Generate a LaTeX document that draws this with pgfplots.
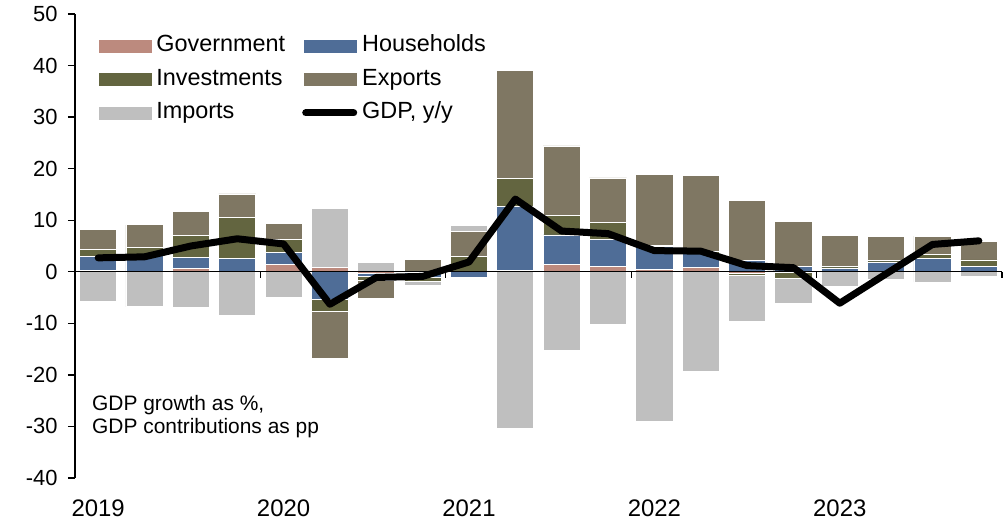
\documentclass[border=0pt]{standalone}
\usepackage{fontspec}
\setmainfont{Liberation Sans}
\usepackage{pgfplots}
\usepackage{pgfplotstable}
\pgfplotsset{compat=1.18}

\definecolor{govc}{HTML}{BC8A7E}
\definecolor{hhc}{HTML}{4F6D97}
\definecolor{invc}{HTML}{636540}
\definecolor{expc}{HTML}{7F7763}
\definecolor{impc}{HTML}{BFBFBF}

% contributions in pp, quarters 2019Q1 .. 2023Q4
\pgfplotstableread{
q   gov   hh    inv   exp   imp    gdp
0   0.3   2.6   1.5   3.8   -5.7   2.7
1   0.1   3.1   1.55  4.35  -6.8   2.9
2   0.7   2.0   4.4   4.6   -6.9   5.0
3   0.1   2.45  8.05  4.5   -8.5   6.4
4   1.45  2.35  2.5   3.1   -4.9   5.4
5   0.9   -5.3  -2.4  -9.1  11.3   -6.3
6   -0.3  -0.65 -0.65 -3.6  1.8    -1.1
7   -0.2  -0.9  -0.8  2.4   -0.7   -0.9
8   0.0   -1.1  2.9   5.0   1.0    1.9
9   0.2   12.4  5.5   21.0  -30.4  14.1
10  1.45  5.7   3.75  13.5  -15.2  7.9
11  1.1   5.1   3.4   8.6   -10.2  7.4
12  0.4   4.5   0.2   13.7  -29.1  4.1
13  0.8   2.8   0.4   14.6  -19.3  4.0
14  -0.4  2.2   -0.3  11.7  -9.0   1.2
15  -0.2  1.0   -1.0  8.7   -5.0   0.8
16  0.0   0.75  0.25  6.1   -2.75  -6.1
17  0.0   1.9   0.3   4.7   -1.5   -0.4
18  0.0   2.55  0.8   3.55  -2.0   5.3
19  0.0   1.1   1.2   3.5   -0.9   6.0
}\gdpdata

\pgfplotsset{
  frame/.style={
    width=927bp, height=464bp, scale only axis,
    xmin=-0.5, xmax=19.5, ymin=-40, ymax=50,
    clip=false,
  },
  bars/.style={
    frame, hide axis,
    ybar stacked, bar width=0.8,
    every axis plot/.append style={draw=white, line width=0.8bp},
  },
}

\begin{document}
\begin{tikzpicture}
% negative parts, stacked downwards
\begin{axis}[bars, y filter/.expression={y<0 ? y : 0}]
  \addplot[fill=govc] table[x=q,y=gov] {\gdpdata};
  \addplot[fill=hhc]  table[x=q,y=hh]  {\gdpdata};
  \addplot[fill=invc] table[x=q,y=inv] {\gdpdata};
  \addplot[fill=expc] table[x=q,y=exp] {\gdpdata};
  \addplot[fill=impc] table[x=q,y=imp] {\gdpdata};
\end{axis}
% positive parts, stacked upwards
\begin{axis}[bars, y filter/.expression={y>0 ? y : 0}]
  \addplot[fill=govc] table[x=q,y=gov] {\gdpdata};
  \addplot[fill=hhc]  table[x=q,y=hh]  {\gdpdata};
  \addplot[fill=invc] table[x=q,y=inv] {\gdpdata};
  \addplot[fill=expc] table[x=q,y=exp] {\gdpdata};
  \addplot[fill=impc] table[x=q,y=imp] {\gdpdata};
\end{axis}
% axes, GDP line, legend
\begin{axis}[
    frame,
    axis lines*=left,
    x axis line style={draw=none},
    y axis line style={line width=1.3bp},
    tick align=outside,
    major tick length=7bp,
    ytick={-40,-30,...,50},
    ytick style={line width=1.3bp, black},
    xtick={0,4,8,12,16},
    xticklabels={2019,2020,2021,2022,2023},
    xtick style={draw=none},
    /pgf/number format/assume math mode=true,
    yticklabel style={font=\fontsize{22}{26}\selectfont, xshift=-7bp},
    xticklabel style={font=\fontsize{24}{28}\selectfont, anchor=base, yshift=-31bp},
    legend columns=2,
    legend cell align=left,
    legend style={at={(rel axis cs:0,1)}, anchor=north west,
      xshift=24bp, yshift=-21bp, draw=none, fill=none,
      inner sep=0pt, outer sep=0pt,
      font=\fontsize{23.5}{28}\selectfont,
      row sep=11.5bp, column sep=5bp,
      /tikz/every even column/.append style={column sep=17bp},
      nodes={inner sep=0pt, text height=17bp, text depth=5bp}},
  ]
  \addlegendimage{legend image code/.code={\fill[govc] (0bp,-6bp) rectangle (52bp,6bp);}}
  \addlegendentry{Government}
  \addlegendimage{legend image code/.code={\fill[hhc] (0bp,-6bp) rectangle (52bp,6bp);}}
  \addlegendentry{Households}
  \addlegendimage{legend image code/.code={\fill[invc] (0bp,-6bp) rectangle (52bp,6bp);}}
  \addlegendentry{Investments}
  \addlegendimage{legend image code/.code={\fill[expc] (0bp,-6bp) rectangle (52bp,6bp);}}
  \addlegendentry{Exports}
  \addlegendimage{legend image code/.code={\fill[impc] (0bp,-6bp) rectangle (52bp,6bp);}}
  \addlegendentry{Imports}

  \draw[black, line width=1.3bp] (axis cs:-0.5,0) -- (axis cs:19.5,0);
  \draw[black, line width=1.3bp] (axis cs:3.5,0) -- ([yshift=-6bp]axis cs:3.5,0);
  \draw[black, line width=1.3bp] (axis cs:7.5,0) -- ([yshift=-6bp]axis cs:7.5,0);
  \draw[black, line width=1.3bp] (axis cs:11.5,0) -- ([yshift=-6bp]axis cs:11.5,0);
  \draw[black, line width=1.3bp] (axis cs:15.5,0) -- ([yshift=-6bp]axis cs:15.5,0);
  \draw[black, line width=1.3bp] (axis cs:19.5,0) -- ([yshift=-6bp]axis cs:19.5,0);

  \addplot[black, line width=7bp, line cap=round, line join=round,
    legend image code/.code={\coordinate (la) at (0bp,-6bp);
      \coordinate (lb) at (52bp,6bp);
      \draw[black, line width=7bp, line cap=round] (2bp,0bp) -- (50bp,0bp);}]
    table[x=q,y=gdp] {\gdpdata};
  \addlegendentry{GDP, y/y}

  \node[anchor=base west, inner sep=0pt, font=\fontsize{21}{25}\selectfont]
    at (axis cs:-0.133,-27.0) {GDP growth as \%,};
  \node[anchor=base west, inner sep=0pt, font=\fontsize{21}{25}\selectfont]
    at (axis cs:-0.133,-31.36) {GDP contributions as pp};

  \coordinate (bl) at (rel axis cs:0,0);
  \coordinate (tr) at (rel axis cs:1,1);
\end{axis}
\pgfresetboundingbox
\path[use as bounding box] ([shift={(-75bp,-43bp)}]bl) rectangle ([shift={(3bp,14bp)}]tr);
\end{tikzpicture}
\end{document}
